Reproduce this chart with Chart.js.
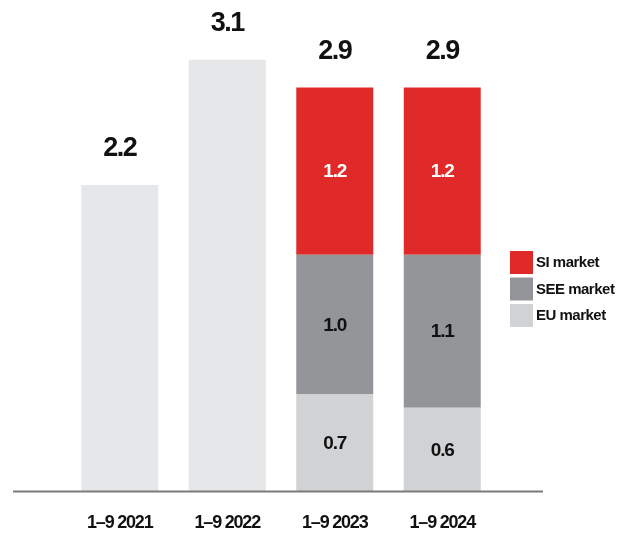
<!DOCTYPE html>
<html>
<head>
<meta charset="utf-8">
<script src="https://cdn.jsdelivr.net/npm/chart.js"></script>
<style>
  html, body { margin: 0; padding: 0; background: #fff; }
  #wrap { width: 627px; height: 533px; position: relative; }
</style>
</head>
<body>
<div id="wrap"><canvas id="myChart"></canvas></div>
<script>
const categories = ['1–9 2021', '1–9 2022', '1–9 2023', '1–9 2024'];
// earlier years are only known as a total
const totalOnly = [2.2, 3.1, null, null];
const euMarket = [null, null, 0.7, 0.6];
const seeMarket = [null, null, 1.0, 1.1];
const siMarket = [null, null, 1.2, 1.2];
const totals = [2.2, 3.1, 2.9, 2.9];

const FONT = '"Liberation Sans", Arial, sans-serif';
const colors = {
  total: '#e6e7e8',
  eu: '#d1d2d4',
  see: '#939598',
  si: '#e02a2a'
};

const legendItems = [
  { text: 'SI market', color: colors.si },
  { text: 'SEE market', color: colors.see },
  { text: 'EU market', color: colors.eu }
];

const decorations = {
  id: 'decorations',
  beforeDraw(chart) {
    // tighter text for the axis labels
    chart.ctx.letterSpacing = '-1.2px';
  },
  afterDatasetsDraw(chart) {
    const ctx = chart.ctx;
    const area = chart.chartArea;
    const y = chart.scales.y;
    const x = chart.scales.x;
    const zero = y.getPixelForValue(0);

    // base line, runs past the bars on both sides
    ctx.save();
    ctx.strokeStyle = '#7b7b7b';
    ctx.lineWidth = 2;
    ctx.beginPath();
    ctx.moveTo(area.left - 53, zero);
    ctx.lineTo(area.right + 47, zero);
    ctx.stroke();

    // values inside the stacked segments
    ctx.textAlign = 'center';
    ctx.textBaseline = 'middle';
    ctx.font = 'bold 19px ' + FONT;
    ctx.letterSpacing = '-1.2px';
    chart.data.datasets.forEach((ds, i) => {
      if (!ds.inner) return;
      const meta = chart.getDatasetMeta(i);
      meta.data.forEach((bar, j) => {
        const v = ds.data[j];
        if (v == null) return;
        ctx.fillStyle = ds.labelColor;
        ctx.fillText(v.toFixed(1), bar.x, (bar.y + bar.base) / 2 + 1);
      });
    });

    // totals above each bar
    ctx.font = 'bold 27px ' + FONT;
    ctx.letterSpacing = '-1.5px';
    ctx.fillStyle = '#111';
    totals.forEach((t, j) => {
      ctx.fillText(t.toFixed(1), x.getPixelForValue(j), y.getPixelForValue(t) - 36);
    });

    // legend
    ctx.textAlign = 'left';
    ctx.font = 'bold 15px ' + FONT;
    ctx.letterSpacing = '-0.5px';
    legendItems.forEach((it, k) => {
      const top = 251 + k * 26.5;
      ctx.fillStyle = it.color;
      ctx.fillRect(510, top, 23, 23);
      ctx.fillStyle = '#111';
      ctx.fillText(it.text, 536, top + 12);
    });
    ctx.restore();
  }
};

const barOpts = { barPercentage: 0.716, categoryPercentage: 1, borderWidth: 0, stack: 's' };

new Chart(document.getElementById('myChart'), {
  type: 'bar',
  data: {
    labels: categories,
    datasets: [
      { label: 'Total', data: totalOnly, backgroundColor: colors.total, ...barOpts },
      { label: 'EU market', data: euMarket, backgroundColor: colors.eu, inner: true, labelColor: '#111', ...barOpts },
      { label: 'SEE market', data: seeMarket, backgroundColor: colors.see, inner: true, labelColor: '#111', ...barOpts },
      { label: 'SI market', data: siMarket, backgroundColor: colors.si, inner: true, labelColor: '#fff', ...barOpts }
    ]
  },
  options: {
    responsive: true,
    maintainAspectRatio: false,
    animation: false,
    layout: { padding: { left: 66, right: 131, top: 4, bottom: -22 } },
    plugins: {
      legend: { display: false },
      tooltip: { enabled: false }
    },
    scales: {
      x: {
        stacked: true,
        grid: { display: false, drawTicks: false },
        border: { display: false },
        ticks: {
          padding: 21,
          color: '#111',
          font: { family: FONT, weight: 'bold', size: 18 }
        }
      },
      y: {
        stacked: true,
        display: false,
        min: 0,
        max: 3.5
      }
    }
  },
  plugins: [decorations]
});
</script>
</body>
</html>
